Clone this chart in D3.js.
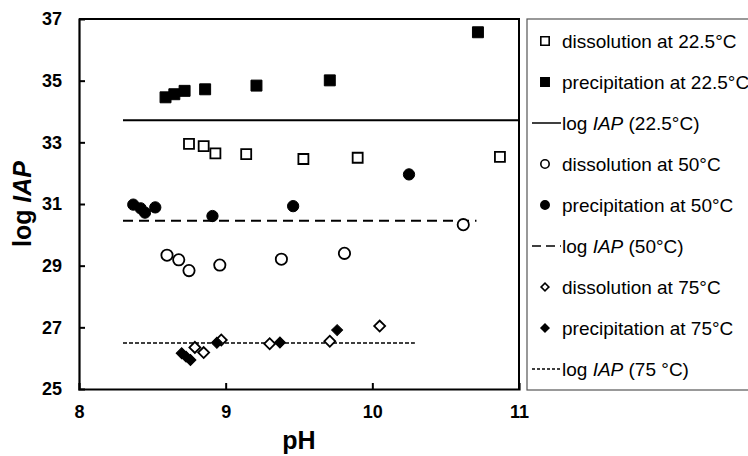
<!DOCTYPE html>
<meta charset="utf-8">
<head>
  <title>log IAP vs pH</title>
</head>
<style>
body { margin: 0; background: #fff; }
text { font-family: "Liberation Sans", Arial, sans-serif; }
</style>
<body>
  <svg id="chart" width="748" height="456"></svg>
  <script src="https://cdnjs.cloudflare.com/ajax/libs/d3/7.8.5/d3.min.js"></script>
  <script>
// pH / log IAP readings
var dis22 = [[8.75, 32.95], [8.85, 32.88], [8.93, 32.64], [9.14, 32.62], [9.53, 32.46], [9.90, 32.50], [10.87, 32.53]]
var pre22 = [[8.59, 34.46], [8.65, 34.56], [8.72, 34.67], [8.86, 34.72], [9.21, 34.84], [9.71, 35.01], [10.72, 36.57]]
var dis50 = [[8.60, 29.34], [8.68, 29.19], [8.75, 28.84], [8.96, 29.02], [9.38, 29.21], [9.81, 29.40], [10.62, 30.33]]
var pre50 = [[8.37, 30.98], [8.42, 30.86], [8.45, 30.72], [8.52, 30.89], [8.91, 30.61], [9.46, 30.93], [10.25, 31.96]]
var dis75 = [[8.79, 26.35], [8.85, 26.18], [8.97, 26.59], [9.30, 26.47], [9.71, 26.55], [10.05, 27.04]]
var pre75 = [[8.70, 26.16], [8.73, 26.05], [8.76, 25.94], [8.94, 26.50], [9.37, 26.51], [9.76, 26.91]]
// horizontal log IAP lines: [from pH, to pH, value]
var iap22 = [8.30, 11.0, 33.72]
var iap50 = [8.30, 10.71, 30.46]
var iap75 = [8.30, 10.29, 26.49]

var xTicks = [8, 9, 10, 11]
var yTicks = [25, 27, 29, 31, 33, 35, 37]

var legendItems = [
  {label: 'dissolution at 22.5°C', kind: 'square', fill: '#fff'},
  {label: 'precipitation at 22.5°C', kind: 'square', fill: '#000'},
  {label: ['log ', 'IAP', '  (22.5°C)'], kind: 'line', dash: null},
  {label: 'dissolution at 50°C', kind: 'circle', fill: '#fff'},
  {label: 'precipitation at 50°C', kind: 'circle', fill: '#000'},
  {label: ['log ', 'IAP', '  (50°C)'], kind: 'line', dash: '9,5'},
  {label: 'dissolution at 75°C', kind: 'diamond', fill: '#fff'},
  {label: 'precipitation at 75°C', kind: 'diamond', fill: '#000'},
  {label: ['log ', 'IAP', '  (75 °C)'], kind: 'line', dash: '3,2'}
]

var svg = d3.select('#chart')
var mLeft = 79, mRight = 519, mTop = 19, mBottom = 389

var x = d3.scaleLinear().domain([8, 11]).range([mLeft, mRight])
var y = d3.scaleLinear().domain([25, 37]).range([mBottom, mTop])

// frame top + right
svg.append('path')
  .attr('d', 'M' + mLeft + ',' + mTop + 'H' + mRight + 'V' + mBottom)
  .attr('fill', 'none').attr('stroke', '#000').attr('stroke-width', 2)

var xAxis = svg.append('g')
  .attr('transform', 'translate(0,' + mBottom + ')')
  .call(d3.axisBottom(x).tickValues(xTicks).tickSize(-6).tickPadding(16).tickFormat(d3.format('d')))
var yAxis = svg.append('g')
  .attr('transform', 'translate(' + mLeft + ',0)')
  .call(d3.axisLeft(y).tickValues(yTicks).tickSize(-6).tickPadding(17).tickFormat(d3.format('d')))

svg.selectAll('.domain').attr('stroke-width', 2.2)
svg.selectAll('.tick line').attr('stroke-width', 2)
svg.selectAll('.tick text')
  .attr('fill', '#000')
  .style('font-family', '"Liberation Sans", Arial, sans-serif')
  .style('font-weight', 'bold')
  .style('font-size', '18px')
// hide end ticks that coincide with the frame
xAxis.selectAll('.tick line').filter(function(d) { return d == 8 || d == 11 }).remove()
yAxis.selectAll('.tick line').filter(function(d) { return d == 25 || d == 37 }).remove()

// axis titles
svg.append('text')
  .attr('x', x(9.5)).attr('y', 449)
  .attr('text-anchor', 'middle')
  .style('font-weight', 'bold').style('font-size', '25px')
  .text('pH')
var yt = svg.append('text')
  .attr('transform', 'translate(31,' + y(31) + ') rotate(-90)')
  .attr('text-anchor', 'middle')
  .style('font-weight', 'bold').style('font-size', '25px')
yt.append('tspan').text('log ')
yt.append('tspan').style('font-style', 'italic').text('IAP')

// reference lines
function refLine(d, dash, w) {
  svg.append('line')
    .attr('x1', x(d[0])).attr('x2', x(d[1]))
    .attr('y1', y(d[2])).attr('y2', y(d[2]))
    .attr('stroke', '#000').attr('stroke-width', w)
    .attr('stroke-dasharray', dash)
}
refLine(iap22, null, 2)
refLine(iap50, '10,6', 2)
refLine(iap75, '4,2', 1.6)

// markers (diamonds = squares turned 45deg)
var sq = d3.symbol().type(d3.symbolSquare).size(120)
var sqOpen = d3.symbol().type(d3.symbolSquare).size(100)
var circ = d3.symbol().type(d3.symbolCircle).size(100)
var dia = d3.symbol().type(d3.symbolSquare).size(60)

function plot(data, gen, fill, rot) {
  svg.append('g').selectAll('path')
    .data(data)
    .enter()
    .append('path')
    .attr('d', gen)
    .attr('transform', function(d) {
      return 'translate(' + x(d[0]) + ',' + y(d[1]) + ')' + (rot ? ' rotate(45)' : '')
    })
    .attr('fill', fill)
    .attr('stroke', '#000')
    .attr('stroke-width', fill == '#000' ? 1 : 1.8)
}
plot(dis22, sqOpen, '#fff')
plot(pre22, sq, '#000')
plot(dis50, circ, '#fff')
plot(pre50, circ, '#000')
plot(dis75, dia, '#fff', true)
plot(pre75, dia, '#000', true)

// legend
svg.append('rect')
  .attr('x', 527).attr('y', 19).attr('width', 230).attr('height', 371)
  .attr('fill', 'none').attr('stroke', '#555').attr('stroke-width', 1.2)

var lg = svg.append('g').selectAll('g')
  .data(legendItems)
  .enter()
  .append('g')
  .attr('transform', function(d, i) { return 'translate(0,' + (41 + i * 41) + ')' })

lg.each(function(d) {
  var g = d3.select(this)
  if (d.kind == 'line') {
    g.append('line').attr('x1', 532).attr('x2', 561).attr('y1', 0).attr('y2', 0)
      .attr('stroke', '#000').attr('stroke-width', 1.5).attr('stroke-dasharray', d.dash)
  } else {
    var gen = d.kind == 'square' ? d3.symbol().type(d3.symbolSquare).size(70)
      : d.kind == 'circle' ? d3.symbol().type(d3.symbolCircle).size(55)
      : d3.symbol().type(d3.symbolSquare).size(30)
    g.append('path').attr('d', gen)
      .attr('transform', 'translate(545,0)' + (d.kind == 'diamond' ? ' rotate(45)' : ''))
      .attr('fill', d.fill).attr('stroke', '#000').attr('stroke-width', 1.6)
  }
  var t = g.append('text').attr('x', 562).attr('y', 7).style('font-size', '19px')
  if (typeof d.label == 'string') {
    t.text(d.label)
  } else {
    t.append('tspan').text(d.label[0])
    t.append('tspan').style('font-style', 'italic').text(d.label[1])
    t.append('tspan').text(d.label[2])
  }
})
  </script>
</body>
</html>
